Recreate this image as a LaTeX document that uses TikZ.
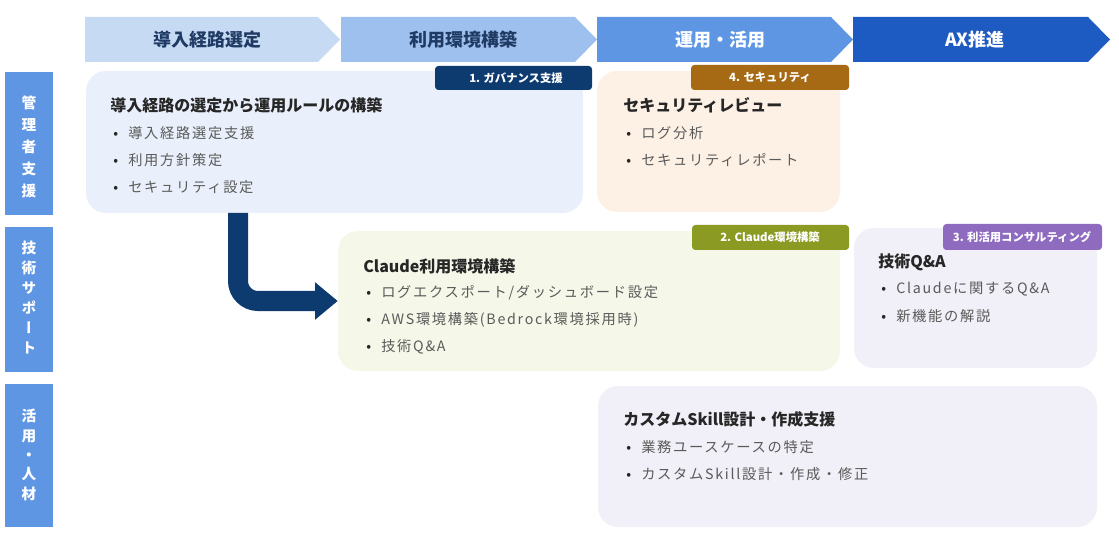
\documentclass[tikz,border=0pt]{standalone}
\usepackage{fontspec}
\setmainfont{Noto Sans CJK JP}
\newfontfamily\bulfont[LetterSpace=12]{Noto Sans CJK JP}
\newfontfamily\sidefont[RawFeature=+vert]{Noto Sans CJK JP}
\usetikzlibrary{arrows.meta,fit}
\definecolor{cA}{HTML}{C6DAF4}
\definecolor{cB}{HTML}{9EC0EF}
\definecolor{cC}{HTML}{5E96E4}
\definecolor{cD}{HTML}{1D5AC2}
\definecolor{navytxt}{HTML}{1F3A63}
\definecolor{sideblue}{HTML}{5E96E4}
\definecolor{boxblue}{HTML}{E9F0FB}
\definecolor{badgenavy}{HTML}{0D3B70}
\definecolor{boxpeach}{HTML}{FDF1E5}
\definecolor{badgebrown}{HTML}{A66A14}
\definecolor{boxolive}{HTML}{F5F8E8}
\definecolor{badgeolive}{HTML}{8A9A22}
\definecolor{boxlav}{HTML}{F1EFF7}
\definecolor{badgepurple}{HTML}{8F6BC0}
\definecolor{titlec}{HTML}{262626}
\definecolor{bulc}{HTML}{5A5A5A}
\newcommand\bitem[1]{\makebox[11.25pt][l]{\textcolor{titlec}{•}}#1}
\begin{document}
\begin{tikzpicture}[x=0.75pt,y=-0.75pt,
  toptext/.style={inner sep=0, font=\bfseries\fontsize{13.5}{16}\selectfont},
  side/.style={fill=sideblue, inner sep=0},
  sidetext/.style={text=white, align=center, inner sep=0},
  bigbox/.style={inner sep=0, rounded corners=15pt},
  badge/.style={inner sep=0, rounded corners=2.5pt, text=white,
    font=\bfseries\fontsize{8.5}{9}\selectfont},
  ttl/.style={anchor=west, inner sep=0, text=titlec, font=\bfseries\fontsize{12}{14}\selectfont},
  bul/.style={anchor=west, inner sep=0, text=bulc, font=\bulfont\fontsize{10.7}{12}\selectfont},
  conn/.style={draw=badgenavy, line width=15pt, rounded corners=15pt,
    -{Triangle[length=17pt,width=27pt]}}
]
\useasboundingbox (0,0) rectangle (1119,534);
% top phase chevrons
\fill[cA] (85,17) -- (318,17) -- (340,39.5) -- (318,62) -- (85,62) -- cycle;
\fill[cB] (341,17) -- (575,17) -- (597,39.5) -- (575,62) -- (341,62) -- cycle;
\fill[cC] (597,17) -- (831,17) -- (853,39.5) -- (831,62) -- (597,62) -- cycle;
\fill[cD] (853,17) -- (1088,17) -- (1110,39.5) -- (1088,62) -- (853,62) -- cycle;
\node[toptext, text=navytxt] (p1) at (207,39.5) {導入経路選定};
\node[toptext, text=navytxt] (p2) at (463,39.5) {利用環境構築};
\node[toptext, text=white] (p3) at (720,39.5) {運用・活用};
\node[toptext, text=white] (p4) at (975,39.5) {AX推進};
% side labels
\node[side, fit={(5,72) (53,215)}] (s1) {};
\node[sidetext, font=\sidefont\bfseries\fontsize{11}{16.5}\selectfont] (s1t) at (29,147) {管\\理\\者\\支\\援};
\node[side, fit={(5,227) (53,372)}] (s2) {};
\node[sidetext, font=\sidefont\bfseries\fontsize{11}{15}\selectfont] (s2t) at (29,298) {技\\術\\サ\\ポ\\ー\\ト};
\node[side, fit={(5,384) (53,527)}] (s3) {};
\node[sidetext, font=\sidefont\bfseries\fontsize{11}{14.5}\selectfont] (s3t) at (29,455) {活\\用\\・\\人\\材};
% boxes
\node[bigbox, fill=boxblue, fit={(86,71) (583,213)}] (b1) {};
\node[bigbox, fill=boxpeach, fit={(597,71) (840,212)}] (b4) {};
\node[bigbox, fill=boxolive, fit={(338,231) (840,371)}] (b2) {};
\node[bigbox, fill=boxlav, fit={(854,228) (1097,368)}] (b3) {};
\node[bigbox, fill=boxlav, fit={(598,386) (1097,527)}] (b5) {};
% badges
\node[badge, fill=badgenavy, fit={(435,66) (592,90)}] (g1) {};
\node[badge] (g1t) at (516,78) {1. ガバナンス支援};
\node[badge, fill=badgebrown, fit={(691,65) (849,90)}] (g4) {};
\node[badge] (g4t) at (770,77.5) {4. セキュリティ};
\node[badge, fill=badgeolive, fit={(692,225) (849,250)}] (g2) {};
\node[badge] (g2t) at (770,237.5) {2. Claude環境構築};
\node[badge, fill=badgepurple, fit={(943,224) (1102,250)}] (g3) {};
\node[badge] (g3t) at (1022,237) {3. 利活用コンサルティング};
% box 1 content
\node[ttl] (t1) at (110,105) {導入経路の選定から運用ルールの構築};
\node[bul] (t1a) at (113,133) {\bitem{導入経路選定支援}};
\node[bul] (t1b) at (113,160) {\bitem{利用方針策定}};
\node[bul] (t1c) at (113,187) {\bitem{セキュリティ設定}};
% box 4 content
\node[ttl] (t4) at (623,105) {セキュリティレビュー};
\node[bul] (t4a) at (626,133) {\bitem{ログ分析}};
\node[bul] (t4b) at (626,160) {\bitem{セキュリティレポート}};
% box 2 content
\node[ttl] (t2) at (363,266) {Claude利用環境構築};
\node[bul] (t2a) at (366,293) {\bitem{ログエクスポート/ダッシュボード設定}};
\node[bul] (t2b) at (366,320) {\bitem{AWS環境構築(Bedrock環境採用時)}};
\node[bul] (t2c) at (366,347) {\bitem{技術Q\&A}};
% box 3 content
\node[ttl] (t3) at (878,262) {技術Q\&A};
\node[bul] (t3a) at (881,289) {\bitem{Claudeに関するQ\&A}};
\node[bul] (t3b) at (881,316) {\bitem{新機能の解説}};
% box 5 content
\node[ttl] (t5) at (623,419) {カスタムSkill設計・作成支援};
\node[bul] (t5a) at (626,447) {\bitem{業務ユースケースの特定}};
\node[bul] (t5b) at (626,474) {\bitem{カスタムSkill設計・作成・修正}};
% connector
\coordinate (astart) at (238,213);
\draw[conn] (astart) |- (b2.west);
\end{tikzpicture}
\end{document}
